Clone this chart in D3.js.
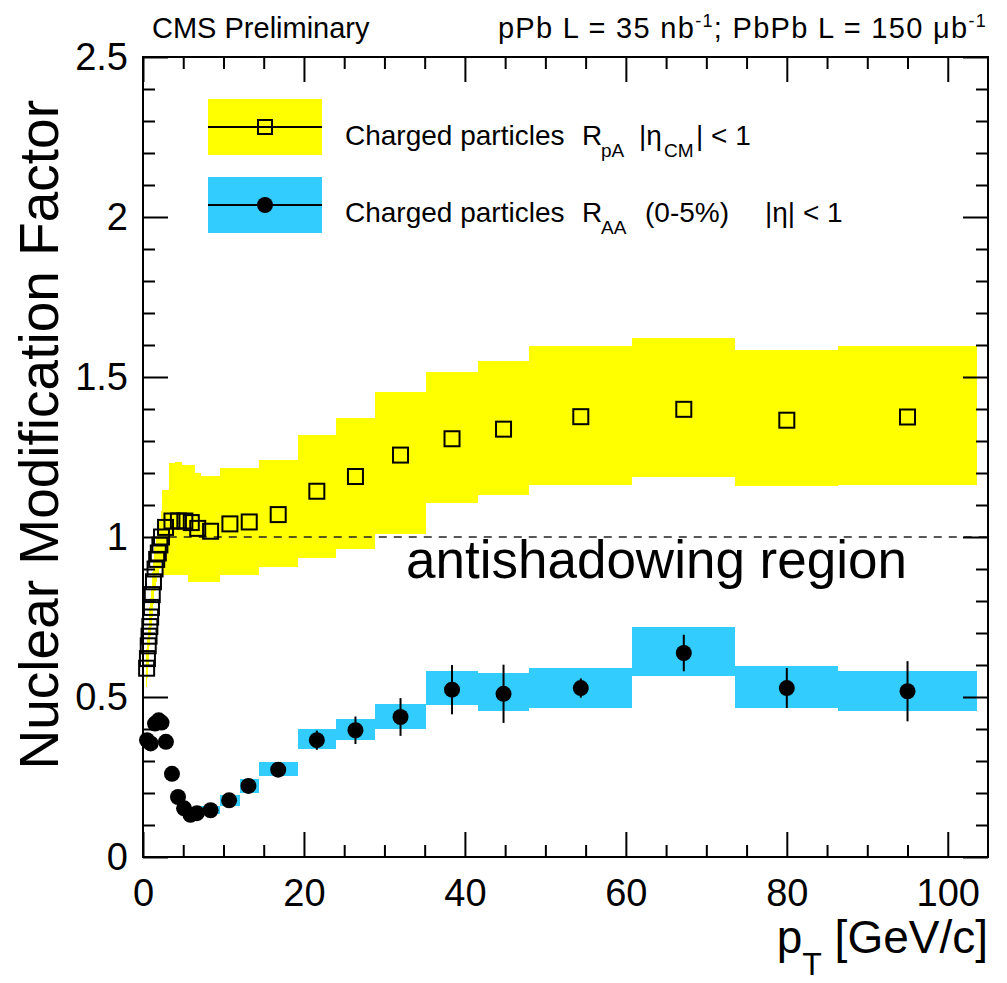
<!DOCTYPE html>
<html>
<head>
<meta charset="utf-8">
<script src="https://cdn.jsdelivr.net/npm/d3@7"></script>
<style>
	body { margin: 0; background: #fff; }
	text { font-family: "Liberation Sans", Arial, Helvetica, sans-serif; fill: #000; }
</style>
</head>
<body>
<div id="chart"></div>
<script>
// pPb charged particle R_pA, bins in pT [GeV/c]
const rpaEdges = [0.4, 0.5, 0.6, 0.7, 0.8, 0.9, 1.0, 1.1, 1.2, 1.4, 1.6, 1.8, 2.0, 2.2, 2.4, 3.2, 4.0, 4.8, 5.6, 6.4, 7.2,
	9.6, 12.0, 14.4, 19.2, 24.0, 28.8, 35.2, 41.6, 48.0, 60.8, 73.6, 86.4, 103.6];
const rpaPt = [0.45, 0.55, 0.65, 0.75, 0.85, 0.95, 1.05, 1.15, 1.3, 1.5, 1.7, 1.9, 2.1, 2.3, 2.8, 3.6, 4.4, 5.2, 6.0, 6.8,
	8.4, 10.8, 13.2, 16.8, 21.6, 26.4, 32.0, 38.4, 44.8, 54.4, 67.2, 80.0, 95.0];
const rpaVal = [0.59, 0.62, 0.66, 0.69, 0.72, 0.75, 0.78, 0.82, 0.86, 0.90, 0.93, 0.95, 0.975, 1.0, 1.03, 1.05, 1.05, 1.05,
	1.045, 1.027, 1.018, 1.041, 1.047, 1.07, 1.143, 1.189, 1.256, 1.307, 1.337, 1.376, 1.399, 1.365, 1.375];
const rpaSysLo = [0.53, 0.56, 0.60, 0.63, 0.66, 0.69, 0.72, 0.75, 0.79, 0.83, 0.86, 0.88, 0.90, 0.92, 0.88, 0.88, 0.88, 0.88,
	0.86, 0.86, 0.86, 0.88, 0.88, 0.906, 0.934, 0.964, 1.008, 1.106, 1.130, 1.164, 1.1875, 1.159, 1.164];
const rpaSysHi = [0.65, 0.68, 0.72, 0.75, 0.78, 0.81, 0.84, 0.89, 0.93, 0.97, 1.0, 1.02, 1.05, 1.08, 1.146, 1.23, 1.235, 1.225,
	1.225, 1.20, 1.19, 1.217, 1.217, 1.242, 1.32, 1.372, 1.453, 1.516, 1.549, 1.596, 1.623, 1.583, 1.596];

// PbPb 0-5% charged particle R_AA
const raaEdges = [0.4, 0.8, 1.2, 1.7, 2.1, 2.4, 3.2, 4.0, 4.8, 5.6, 6.4, 7.2, 9.6, 12.0, 14.4, 19.2, 24.0, 28.8, 35.2,
	41.6, 48.0, 60.8, 73.6, 86.4, 103.6];
const raaPt = [0.5, 0.95, 1.5, 1.95, 2.3, 2.85, 3.6, 4.35, 5.1, 5.9, 6.7, 8.4, 10.7, 13.1, 16.8, 21.6, 26.4, 32.0, 38.4,
	44.8, 54.4, 67.2, 80.0, 95.0];
const raaVal = [0.365, 0.355, 0.417, 0.427, 0.42, 0.36, 0.26, 0.1875, 0.152, 0.132, 0.137, 0.146, 0.177, 0.222, 0.273,
	0.365, 0.396, 0.4375, 0.523, 0.51, 0.528, 0.6375, 0.528, 0.518];
const raaStat = [0.01, 0.01, 0.01, 0.01, 0.01, 0.01, 0.01, 0.01, 0.01, 0.01, 0.01, 0.01, 0.01, 0.015, 0.02, 0.03, 0.043,
	0.059, 0.077, 0.091, 0.03, 0.057, 0.0625, 0.094];
const raaSysLo = [0.345, 0.335, 0.395, 0.405, 0.40, 0.34, 0.245, 0.178, 0.142, 0.122, 0.126, 0.134, 0.16, 0.2, 0.252,
	0.339, 0.367, 0.401, 0.474, 0.456, 0.467, 0.565, 0.467, 0.456];
const raaSysHi = [0.385, 0.375, 0.435, 0.449, 0.44, 0.38, 0.275, 0.2, 0.164, 0.144, 0.15, 0.16, 0.195, 0.245, 0.297,
	0.399, 0.432, 0.479, 0.581, 0.575, 0.592, 0.718, 0.598, 0.581];

const xTicks = [0, 20, 40, 60, 80, 100];
const yTicks = [0, 0.5, 1, 1.5, 2, 2.5];
const unityRange = [3.2, 105];

const rpa = rpaVal.map((v, i) => ({x0: rpaEdges[i], x1: rpaEdges[i + 1], pt: rpaPt[i], v, lo: rpaSysLo[i], hi: rpaSysHi[i]}));
const raa = raaVal.map((v, i) => ({x0: raaEdges[i], x1: raaEdges[i + 1], pt: raaPt[i], v, e: raaStat[i], lo: raaSysLo[i], hi: raaSysHi[i]}));

const margin = {top: 57, left: 143},
	width = 845,
	height = 800,
	yellow = '#ffff00',
	blue = '#33ccff';

const svg = d3.select('#chart').append('svg')
	.attr('width', 1007)
	.attr('height', 983);

const x = d3.scaleLinear().domain([0, 105]).range([0, width]);
const y = d3.scaleLinear().domain([0, 2.5]).range([height, 0]);

const g = svg.append('g').attr('transform', `translate(${margin.left}, ${margin.top})`);

// systematic boxes
g.append('g').selectAll('rect').data(rpa).enter().append('rect')
	.attr('x', d => x(d.x0))
	.attr('width', d => x(d.x1) - x(d.x0))
	.attr('y', d => y(d.hi))
	.attr('height', d => y(d.lo) - y(d.hi))
	.attr('shape-rendering', 'crispEdges')
	.style('fill', yellow);

g.append('g').selectAll('rect').data(raa).enter().append('rect')
	.attr('x', d => x(d.x0))
	.attr('width', d => x(d.x1) - x(d.x0))
	.attr('y', d => y(d.hi))
	.attr('height', d => y(d.lo) - y(d.hi))
	.attr('shape-rendering', 'crispEdges')
	.style('fill', blue);

// unity line
g.append('line')
	.attr('x1', x(unityRange[0])).attr('x2', x(unityRange[1]))
	.attr('y1', y(1)).attr('y2', y(1))
	.style('stroke', '#222')
	.style('stroke-width', 1.5)
	.style('stroke-dasharray', '8,7');

// axes (ROOT style, ticks pointing inwards on all sides)
function styleAxis(sel) {
	sel.select('.domain').remove();
	sel.selectAll('.tick line').style('stroke', '#000').style('stroke-width', 2);
	sel.selectAll('.tick text').style('font-size', '38px').style('font-family', '"Liberation Sans", Arial, sans-serif');
}
const xMinor = d3.range(0, 105, 5).filter(v => xTicks.indexOf(v) < 0);
const yMinor = d3.range(0, 26).map(v => v / 10).filter(v => yTicks.indexOf(v) < 0);
const fmt = d => String(d);

g.append('g').attr('transform', `translate(0, ${height})`)
	.call(d3.axisBottom(x).tickValues(xTicks).tickSize(-25).tickPadding(22).tickFormat(fmt)).call(styleAxis);
g.append('g').attr('transform', `translate(0, ${height})`)
	.call(d3.axisBottom(x).tickValues(xMinor).tickSize(-12).tickFormat('')).call(styleAxis);
g.append('g')
	.call(d3.axisTop(x).tickValues(xTicks).tickSize(-25).tickFormat('')).call(styleAxis);
g.append('g')
	.call(d3.axisTop(x).tickValues(xMinor).tickSize(-12).tickFormat('')).call(styleAxis);
g.append('g')
	.call(d3.axisLeft(y).tickValues(yTicks).tickSize(-25).tickPadding(15).tickFormat(fmt)).call(styleAxis);
g.append('g')
	.call(d3.axisLeft(y).tickValues(yMinor).tickSize(-12).tickFormat('')).call(styleAxis);
g.append('g').attr('transform', `translate(${width}, 0)`)
	.call(d3.axisRight(y).tickValues(yTicks).tickSize(-25).tickFormat('')).call(styleAxis);
g.append('g').attr('transform', `translate(${width}, 0)`)
	.call(d3.axisRight(y).tickValues(yMinor).tickSize(-12).tickFormat('')).call(styleAxis);

g.append('rect')
	.attr('width', width).attr('height', height)
	.style('fill', 'none').style('stroke', '#000').style('stroke-width', 2);

// stat error bars + markers
g.append('g').selectAll('line').data(raa).enter().append('line')
	.attr('x1', d => x(d.pt)).attr('x2', d => x(d.pt))
	.attr('y1', d => y(d.v - d.e)).attr('y2', d => y(d.v + d.e))
	.style('stroke', '#000').style('stroke-width', 2);

g.append('g').selectAll('circle').data(raa).enter().append('circle')
	.attr('cx', d => x(d.pt)).attr('cy', d => y(d.v))
	.attr('r', 8)
	.style('fill', '#000');

const sq = 15;
g.append('g').selectAll('rect').data(rpa).enter().append('rect')
	.attr('x', d => x(d.pt) - sq / 2).attr('y', d => y(d.v) - sq / 2)
	.attr('width', sq).attr('height', sq)
	.style('fill', 'none').style('stroke', '#000').style('stroke-width', 2);

g.append('text')
	.attr('x', 263).attr('y', 521)
	.style('font-size', '53px')
	.text('antishadowing region');

// legend
const leg = svg.append('g');
[[yellow, 127], [blue, 205]].forEach(([c, cy]) => {
	leg.append('rect').attr('x', 208).attr('y', cy - 28).attr('width', 114).attr('height', 56).style('fill', c);
	leg.append('line').attr('x1', 208).attr('x2', 322).attr('y1', cy).attr('y2', cy)
		.style('stroke', '#000').style('stroke-width', 2);
});
leg.append('rect').attr('x', 258).attr('y', 120).attr('width', 14).attr('height', 14)
	.style('fill', 'none').style('stroke', '#000').style('stroke-width', 2);
leg.append('circle').attr('cx', 265).attr('cy', 205).attr('r', 8).style('fill', '#000');

function legText(yBase, parts) {
	parts.forEach(([str, px, sub]) => {
		leg.append('text')
			.attr('x', px).attr('y', sub ? yBase + 12 : yBase)
			.style('font-size', sub ? '19px' : '28px')
			.text(str);
	});
}
legText(145, [['Charged particles', 345], ['R', 582], ['pA', 601, true], ['|\u03b7', 639], ['CM', 664, true], ['| < 1', 696]]);
legText(222, [['Charged particles', 345], ['R', 582], ['AA', 601, true], ['(0-5%)', 645], ['|\u03b7| < 1', 765]]);

// header
svg.append('text').attr('x', 152).attr('y', 38).style('font-size', '29px').text('CMS Preliminary');
const hdr = svg.append('text').attr('x', 987).attr('y', 38).attr('text-anchor', 'end')
	.style('font-size', '29px').style('letter-spacing', '1.3px');
hdr.append('tspan').text('pPb L = 35 nb');
hdr.append('tspan').attr('dy', -11).style('font-size', '18px').text('-1');
hdr.append('tspan').attr('dy', 11).text('; PbPb L = 150 \u03bcb');
hdr.append('tspan').attr('dy', -11).style('font-size', '18px').text('-1');

// axis titles
const xt = svg.append('text').attr('x', 988).attr('y', 953).attr('text-anchor', 'end').style('font-size', '46px');
xt.append('tspan').text('p');
xt.append('tspan').attr('dy', 22).style('font-size', '32px').text('T');
xt.append('tspan').attr('dy', -22).text(' [GeV/c]');

svg.append('text')
	.attr('transform', 'translate(58, 100) rotate(-90)')
	.attr('text-anchor', 'end')
	.style('font-size', '55px')
	.text('Nuclear Modification Factor');
</script>
</body>
</html>
